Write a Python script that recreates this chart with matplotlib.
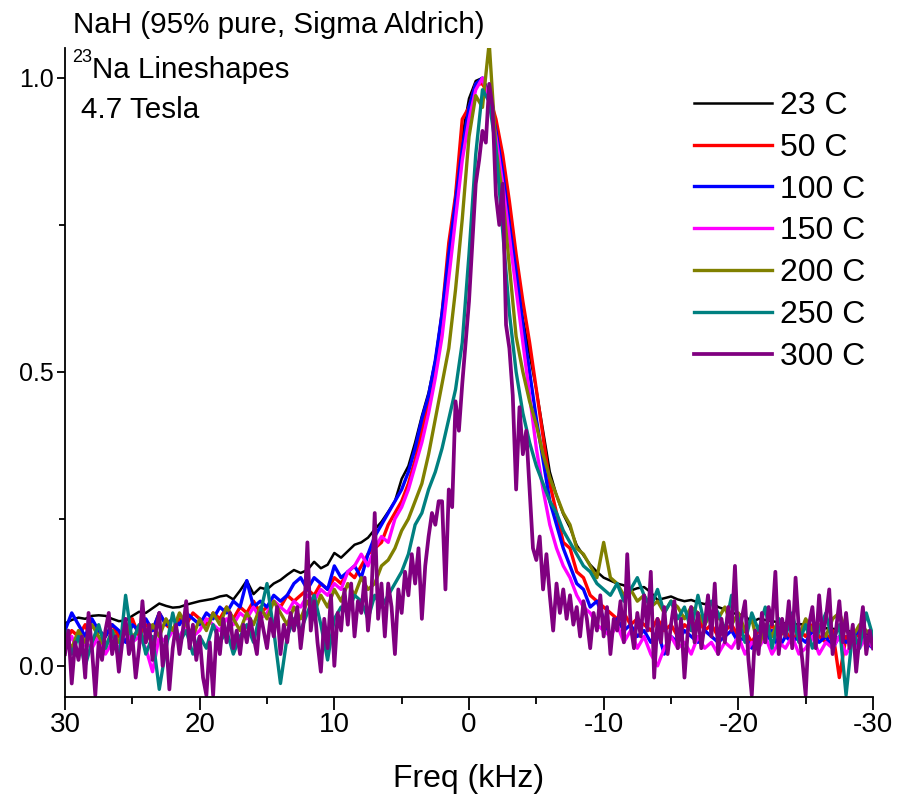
import matplotlib
matplotlib.use("Agg")
import matplotlib.pyplot as plt
import numpy as np
from matplotlib.ticker import MultipleLocator

plt.rcParams["font.family"] = ["Liberation Sans", "DejaVu Sans"]
plt.rcParams["axes.unicode_minus"] = False

# frequency grids (kHz), spectra sampled every 0.5 kHz, 300 C every 0.25 kHz
freq = np.linspace(30, -30, 121)
freq_fine = np.linspace(30, -30, 241)

labels = ["23 C", "50 C", "100 C", "150 C", "200 C", "250 C", "300 C"]
colors = ["#000000", "#ff0000", "#0000ff", "#ff00ff", "#808000", "#008080", "#800080"]

t23 = [0.072, 0.078, 0.082, 0.080, 0.085, 0.086, 0.085, 0.080, 0.076, 0.077,
       0.085, 0.092, 0.090, 0.098, 0.106, 0.102, 0.099, 0.100, 0.104, 0.107,
       0.110, 0.112, 0.114, 0.118, 0.120, 0.113, 0.128, 0.145, 0.122, 0.133,
       0.130, 0.140, 0.146, 0.155, 0.163, 0.158, 0.163, 0.177, 0.166, 0.172,
       0.192, 0.184, 0.195, 0.206, 0.210, 0.218, 0.232, 0.245, 0.262, 0.280,
       0.318, 0.340, 0.380, 0.425, 0.465, 0.520, 0.600, 0.700, 0.800, 0.900,
       0.965, 0.995, 1.000, 0.975, 0.920, 0.850, 0.760, 0.670, 0.590, 0.530,
       0.470, 0.400, 0.330, 0.290, 0.258, 0.235, 0.205, 0.188, 0.172, 0.160,
       0.150, 0.145, 0.140, 0.137, 0.128, 0.132, 0.134, 0.125, 0.112, 0.115,
       0.118, 0.113, 0.110, 0.112, 0.108, 0.105, 0.109, 0.100, 0.096, 0.090,
       0.088, 0.085, 0.074, 0.080, 0.078, 0.076, 0.074, 0.072, 0.070, 0.071,
       0.070, 0.068, 0.066, 0.064, 0.063, 0.062, 0.062, 0.055, 0.050, 0.053,
       0.056]

t50 = [0.04, 0.06, 0.05, 0.07, 0.04, 0.06, 0.05, 0.07, 0.05, 0.06,
       0.08, 0.05, 0.07, 0.06, 0.09, 0.07, 0.06, 0.08, 0.07, 0.09,
       0.08, 0.07, 0.09, 0.08, 0.10, 0.08, 0.10, 0.09, 0.11, 0.09,
       0.10, 0.11, 0.10, 0.12, 0.11, 0.12, 0.13, 0.12, 0.14, 0.13,
       0.15, 0.14, 0.16, 0.15, 0.17, 0.19, 0.20, 0.21, 0.24, 0.26,
       0.28, 0.31, 0.35, 0.40, 0.45, 0.51, 0.60, 0.72, 0.80, 0.93,
       0.95, 0.99, 0.99, 0.97, 0.93, 0.87, 0.79, 0.70, 0.62, 0.55,
       0.47, 0.39, 0.31, 0.26, 0.21, 0.20, 0.16, 0.15, 0.12, 0.11,
       0.10, 0.09, 0.08, 0.09, 0.07, 0.08, 0.07, 0.06, 0.08, 0.06,
       0.07, 0.05, 0.07, 0.06, 0.08, 0.06, 0.07, 0.05, 0.06, 0.07,
       0.05, 0.06, 0.04, 0.06, 0.05, 0.07, 0.05, 0.06, 0.04, 0.06,
       0.05, 0.07, 0.05, 0.04, 0.06, -0.02, 0.05, 0.04, 0.06, 0.05,
       0.04]

t100 = [0.06, 0.09, 0.07, 0.05, 0.08, 0.06, 0.05, 0.07, 0.06, 0.04,
        0.07, 0.06, 0.08, 0.06, 0.09, 0.07, 0.08, 0.07, 0.09, 0.08,
        0.07, 0.09, 0.08, 0.10, 0.09, 0.11, 0.10, 0.145, 0.10, 0.11,
        0.10, 0.12, 0.11, 0.12, 0.14, 0.15, 0.13, 0.15, 0.14, 0.13,
        0.17, 0.15, 0.16, 0.17, 0.15, 0.19, 0.22, 0.24, 0.26, 0.28,
        0.30, 0.33, 0.37, 0.42, 0.46, 0.52, 0.60, 0.70, 0.79, 0.88,
        0.95, 0.99, 1.00, 0.97, 0.91, 0.84, 0.75, 0.67, 0.58, 0.50,
        0.42, 0.35, 0.28, 0.24, 0.20, 0.17, 0.14, 0.13, 0.10, 0.11,
        0.08, 0.05, 0.08, 0.06, 0.07, 0.05, 0.06, 0.04, 0.06, 0.02,
        0.05, 0.04, 0.06, 0.05, 0.04, 0.06, 0.05, 0.04, 0.05, 0.06,
        0.04, 0.05, 0.03, 0.05, 0.04, 0.06, 0.03, 0.05, 0.04, 0.05,
        0.04, 0.06, 0.04, 0.05, 0.03, 0.05, 0.04, 0.05, 0.06, 0.04,
        0.03]

t150 = [0.03, 0.05, 0.02, 0.04, 0.03, 0.05, 0.02, 0.04, 0.03, 0.06,
        0.04, 0.05, 0.03, -0.01, 0.05, 0.04, 0.06, 0.05, 0.07, 0.05,
        0.06, 0.08, 0.07, 0.06, 0.08, 0.07, 0.09, 0.08, 0.10, 0.08,
        0.09, 0.11, 0.10, 0.09, 0.11, 0.10, 0.12, 0.11, 0.13, 0.12,
        0.14, 0.13, 0.16, 0.17, 0.19, 0.17, 0.20, 0.22, 0.21, 0.25,
        0.27, 0.30, 0.34, 0.38, 0.43, 0.49, 0.56, 0.66, 0.76, 0.86,
        0.93, 0.98, 1.00, 0.96, 0.90, 0.82, 0.73, 0.64, 0.55, 0.46,
        0.37, 0.30, 0.24, 0.20, 0.17, 0.15, 0.12, 0.10, 0.09, 0.07,
        0.06, 0.05, 0.07, 0.04, 0.06, 0.03, 0.05, 0.02, 0.00, 0.03,
        0.05, 0.03, 0.04, 0.02, 0.05, 0.03, 0.04, 0.02, 0.04, 0.03,
        0.05, 0.02, 0.04, 0.03, 0.05, 0.02, 0.04, 0.03, 0.05, 0.02,
        0.03, 0.05, 0.02, 0.04, 0.03, 0.05, 0.02, 0.04, 0.03, 0.05,
        0.03]

t200 = [0.05, 0.03, 0.06, 0.04, 0.07, 0.05, 0.03, 0.06, 0.04, 0.07,
        0.05, 0.06, 0.04, 0.07, 0.05, 0.08, 0.06, 0.09, 0.07, 0.05,
        0.08, 0.06, 0.09, 0.07, 0.10, 0.08, 0.06, 0.09, 0.07, 0.10,
        0.08, 0.11, 0.09, 0.07, 0.10, 0.08, 0.11, 0.09, 0.12, 0.10,
        0.13, 0.11, 0.14, 0.12, 0.15, 0.13, 0.14, 0.17, 0.18, 0.20,
        0.23, 0.25, 0.28, 0.31, 0.36, 0.42, 0.48, 0.54, 0.64, 0.76,
        0.90, 0.97, 0.95, 1.06, 0.88, 0.80, 0.68, 0.56, 0.50, 0.45,
        0.41, 0.36, 0.32, 0.29, 0.26, 0.24, 0.20, 0.19, 0.17, 0.15,
        0.21, 0.15, 0.14, 0.12, 0.13, 0.11, 0.12, 0.10, 0.11, 0.09,
        0.11, 0.10, 0.08, 0.10, 0.09, 0.07, 0.09, 0.08, 0.10, 0.07,
        0.09, 0.06, 0.08, 0.03, 0.07, 0.05, 0.08, 0.06, 0.07, 0.05,
        0.08, 0.06, 0.07, 0.05, 0.08, 0.09, 0.06, 0.05, 0.07, 0.06,
        0.05]

t250 = [0.06, 0.02, 0.05, 0.00, 0.04, 0.07, 0.03, 0.06, 0.01, 0.12,
        0.04, 0.07, 0.02, 0.05, -0.04, 0.03, 0.09, 0.04, 0.06, 0.02,
        0.05, 0.03, 0.07, 0.04, 0.06, 0.02, 0.05, 0.07, 0.04, 0.09,
        0.14, 0.06, -0.03, 0.05, 0.08, 0.06, 0.09, 0.12, 0.07, 0.01,
        0.08, 0.10, 0.09, 0.12, 0.11, 0.08, 0.12, 0.10, 0.12, 0.14,
        0.16, 0.19, 0.24, 0.26, 0.30, 0.33, 0.37, 0.42, 0.47, 0.55,
        0.70, 0.87, 0.98, 0.96, 0.88, 0.74, 0.60, 0.50, 0.43, 0.38,
        0.34, 0.31, 0.28, 0.26, 0.23, 0.21, 0.19, 0.17, 0.16, 0.14,
        0.13, 0.12, 0.14, 0.11, 0.13, 0.15, 0.12, 0.10, 0.13, 0.09,
        0.11, 0.08, 0.10, 0.06, 0.12, 0.07, 0.11, 0.09, 0.06, 0.12,
        0.08, 0.04, 0.09, 0.06, 0.10, 0.03, 0.08, 0.05, 0.09, 0.04,
        0.07, 0.03, 0.06, 0.09, 0.04, 0.07, -0.05, 0.06, 0.03, 0.09,
        0.05]

t300 = [0.02, 0.06, -0.03, 0.04, 0.01, 0.05, -0.02, 0.09,
        0.03, -0.05, 0.04, 0.01, 0.06, 0.09, 0.02, 0.05,
        -0.01, 0.04, 0.08, 0.02, 0.05, -0.02, 0.03, 0.11,
        0.04, 0.07, 0.01, 0.06, 0.09, 0.00, 0.05, -0.04,
        0.03, 0.07, 0.02, 0.06, 0.11, 0.03, 0.07, 0.01,
        0.05, -0.02, -0.05, 0.04, -0.05, 0.06, 0.02, 0.08,
        0.04, 0.09, 0.03, 0.06, 0.02, 0.07, 0.04, 0.08,
        0.05, 0.02, 0.09, 0.06, 0.03, 0.08, 0.05, 0.10,
        0.02, 0.07, 0.04, 0.09, 0.06, 0.10, 0.03, 0.08,
        0.21, 0.06, 0.11, 0.04, -0.01, 0.08, 0.03, 0.12,
        0.00, 0.09, 0.06, 0.13, 0.07, 0.14, 0.05, 0.11,
        0.09, 0.15, 0.06, 0.12, 0.26, 0.08, 0.14, 0.05,
        0.14, 0.10, 0.02, 0.13, 0.09, 0.16, 0.12, 0.19,
        0.14, 0.20, 0.08, 0.17, 0.22, 0.26, 0.24, 0.28,
        0.28, 0.13, 0.30, 0.27, 0.45, 0.40, 0.48, 0.55,
        0.62, 0.72, 0.82, 0.86, 0.91, 0.89, 0.99, 0.95,
        0.80, 0.75, 0.82, 0.58, 0.54, 0.46, 0.30, 0.44,
        0.36, 0.40, 0.30, 0.20, 0.18, 0.22, 0.13, 0.19,
        0.12, 0.06, 0.14, 0.09, 0.13, 0.08, 0.12, 0.07,
        0.10, 0.05, 0.11, 0.08, 0.03, 0.09, 0.06, 0.12,
        0.05, 0.10, 0.02, 0.08, 0.06, 0.11, 0.04, 0.19,
        0.07, 0.03, 0.09, 0.05, 0.12, 0.06, 0.16, -0.02,
        0.08, 0.04, 0.10, 0.02, 0.07, 0.11, 0.03, 0.08,
        -0.02, 0.06, 0.10, 0.04, 0.09, 0.03, 0.07, 0.12,
        0.05, 0.14, 0.02, 0.08, 0.04, 0.10, 0.06, 0.17,
        0.03, 0.08, 0.11, 0.01, -0.05, 0.06, 0.02, 0.09,
        0.04, 0.10, 0.07, 0.16, 0.02, 0.08, 0.05, 0.11,
        0.03, 0.15, 0.06, 0.01, -0.05, 0.07, 0.10, 0.03,
        0.12, 0.05, 0.08, 0.13, 0.02, 0.06, 0.11, 0.04,
        0.09, 0.03, 0.07, -0.01, 0.05, 0.10, 0.02, 0.06,
        0.03]

series = [t23, t50, t100, t150, t200, t250, t300]
widths = [1.8, 2.4, 2.4, 2.4, 2.4, 2.4, 2.7]

fig = plt.figure(figsize=(8.99, 8.02), dpi=100)
ax = fig.add_axes([65 / 899, 1 - 697 / 802, 808 / 899, 649 / 802])

for vals, lab, col, lw in zip(series, labels, colors, widths):
    x = freq_fine if len(vals) == len(freq_fine) else freq
    ax.plot(x, vals, color=col, lw=lw, label=lab)

ax.set_xlim(30, -30)
ax.set_ylim(-0.053, 1.051)
ax.spines["top"].set_visible(False)
ax.spines["right"].set_visible(False)
for s in ["left", "bottom"]:
    ax.spines[s].set_linewidth(1.3)

ax.xaxis.set_major_locator(MultipleLocator(10))
ax.xaxis.set_minor_locator(MultipleLocator(5))
ax.yaxis.set_major_locator(MultipleLocator(0.5))
ax.yaxis.set_minor_locator(MultipleLocator(0.25))
ax.tick_params(axis="x", which="major", direction="out", length=9.5, width=1.3,
               pad=1, labelsize=20)
ax.tick_params(axis="x", which="minor", direction="out", length=5, width=1.3)
ax.tick_params(axis="y", which="major", direction="out", length=6, width=1.3,
               pad=2, labelsize=18)
ax.tick_params(axis="y", which="minor", direction="out", length=4, width=1.3)
ax.set_xticks([30, 20, 10, 0, -10, -20, -30])
ax.set_xticklabels(["30", "20", "10", "0", "-10", "-20", "-30"])
ax.set_yticks([0, 0.5, 1.0])
ax.set_yticklabels(["0.0", "0.5", "1.0"])

ax.set_xlabel("Freq (kHz)", fontsize=23, labelpad=19)

ax.legend(loc="upper left", bbox_to_anchor=((694 - 65) / 808, (697 - 91) / 649),
          frameon=False, fontsize=23, handlelength=2.45, handletextpad=0.25,
          labelspacing=0.37, borderpad=0, borderaxespad=0)

def fig_text(px, py, s, size):
    fig.text(px / 899, 1 - py / 802, s, fontsize=size, va="baseline", ha="left")

fig_text(73, 33, "NaH (95% pure, Sigma Aldrich)", 21.3)
fig_text(72, 62, "23", 13)
fig_text(92, 78, "Na Lineshapes", 21.3)
fig_text(81, 118, "4.7 Tesla", 21.3)

fig.savefig("out.png", dpi=100)
